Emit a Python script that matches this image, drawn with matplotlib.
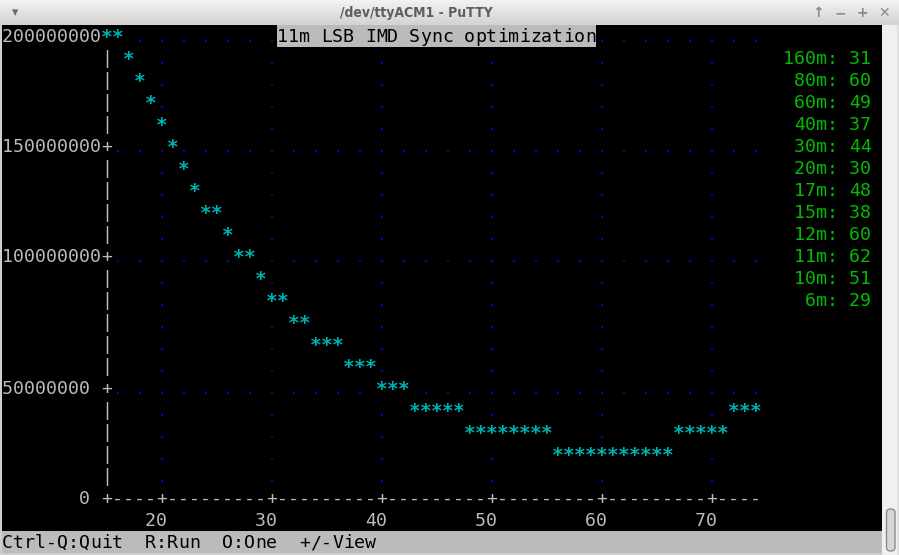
import numpy as np
import matplotlib
matplotlib.use("Agg")
import matplotlib.pyplot as plt
from matplotlib.patches import Rectangle, FancyBboxPatch
from matplotlib.transforms import offset_copy

# ---------------- data ----------------
x_values = list(range(15, 75))
y_values = [200e6, 200e6, 190e6, 181e6, 171e6, 162e6, 152e6, 143e6, 133e6, 125e6,
            122e6, 115e6, 106e6, 103e6, 96e6, 87e6, 84e6, 78e6, 75e6, 69e6,
            67e6, 65e6, 60e6, 58e6, 56e6, 51e6, 49e6, 47e6, 42e6, 41e6,
            40e6, 39e6, 38e6, 33e6, 32e6, 31e6, 30e6, 30e6, 29e6, 29e6,
            29e6, 23e6, 22e6, 21e6, 21e6, 20e6, 20e6, 20e6, 20e6, 21e6,
            21e6, 22e6, 29e6, 30e6, 31e6, 32e6, 33e6, 38e6, 40e6, 42e6]
xtick_values = [20, 30, 40, 50, 60, 70]
xtick_labels = ["20", "30", "40", "50", "60", "70"]
ytick_values = [0, 50e6, 100e6, 150e6, 200e6]
ytick_labels = ["0", "50000000", "100000000", "150000000", "200000000"]
bands = ["160m", "80m", "60m", "40m", "30m", "20m", "17m", "15m", "12m", "11m", "10m", "6m"]
band_values = [31, 60, 49, 37, 44, 30, 48, 38, 60, 62, 51, 29]
title = "11m LSB IMD Sync optimization"
status = "Ctrl-Q:Quit  R:Run  O:One  +/-View"
window_title = "/dev/ttyACM1 - PuTTY"

# ---------------- style ----------------
MONO = "DejaVu Sans Mono"
FS = 13.15
FG = "#bbbbbb"
CYAN = "#00b0b0"
GREEN = "#00bb00"
BLUE = "#0000e0"
W, H = 899, 555
CW, RH = 11, 22          # terminal cell size (px)
X0, Y0 = 2, 25           # terminal origin (px)
ROWS = 21                # plot height in terminal rows
YMAX = 200e6

fig = plt.figure(figsize=(W / 100, H / 100), dpi=100)
fig.patch.set_facecolor("#d8d8d8")

# background / chrome axes in pixel coordinates
ov = fig.add_axes([0, 0, 1, 1])
ov.set_xlim(0, W)
ov.set_ylim(H, 0)
ov.set_axis_off()
ov.set_zorder(0)

grad = np.linspace(0, 1, 25).reshape(-1, 1)
ov.imshow(grad, extent=[0, W, 25, 0], cmap=matplotlib.colors.LinearSegmentedColormap.from_list(
    "tb", ["#f2f2f2", "#d3d3d3"]), aspect="auto", zorder=0)
ov.add_patch(Rectangle((0, 25), W, H - 25, facecolor="#cfcfcf", edgecolor="none", zorder=0))
ov.add_patch(Rectangle((X0, Y0), 80 * CW, 24 * RH - 1, facecolor="black", edgecolor="none", zorder=1))
# scrollbar
ov.add_patch(Rectangle((882, 25), 17, H - 25, facecolor="#f0f0f0", edgecolor="none", zorder=1))
ov.add_patch(Rectangle((897, 25), 2, H - 25, facecolor="#e2e2e2", edgecolor="none", zorder=1))
ov.add_patch(FancyBboxPatch((886.5, 509), 8.5, 42, boxstyle="round,pad=0,rounding_size=4",
                            facecolor="#d6d6d6", edgecolor="#8c8c8c", linewidth=1.0, zorder=2))
# window title and buttons
ov.text(416, 13.5, window_title, ha="center", va="center", color="#5e5e5e",
        fontsize=10, fontweight="bold", fontstretch="condensed",
        family="DejaVu Sans", zorder=3)
ov.text(15, 12.5, "\u25be", ha="center", va="center", color="#6a6a6a", fontsize=9,
        family="DejaVu Sans", zorder=3)
for bx, sym in zip([818, 840, 862, 884], ["\u2191", "\u2212", "+", "\u2715"]):
    ov.text(bx, 13, sym, ha="center", va="center", color="#8a8a8a", fontsize=10,
            fontweight="bold", family="DejaVu Sans", zorder=3)


def put(axes, col, row, s, color, z=5):
    for i, ch in enumerate(s):
        if ch == " ":
            continue
        axes.text(X0 + CW * (col + i) + CW / 2, Y0 + RH * row + 17, ch, ha="center",
                  va="baseline", color=color, family=MONO, fontsize=FS, zorder=z)


# legend (band optimum values)
for r, (b, v) in enumerate(zip(bands, band_values)):
    s = f"{b}: {v}"
    put(ov, 79 - len(s), 1 + r, s, GREEN)

# status bar
ov.add_patch(Rectangle((X0, Y0 + 23 * RH), 80 * CW, RH, facecolor="#bbbbbb", edgecolor="none", zorder=2))
put(ov, 0, 23, status, "black")

# ---------------- plot axes ----------------
left_px = X0 + CW * 9 + CW / 2
right_px = X0 + CW * 68 + CW / 2
top_px = Y0 + RH / 2 + 0
bot_px = Y0 + RH * ROWS + RH / 2
ax = fig.add_axes([left_px / W, (H - bot_px) / H, (right_px - left_px) / W, (bot_px - top_px) / H])
ax.set_zorder(1)
ax.patch.set_visible(False)


def fwd(v):
    return np.floor(np.asarray(v, dtype=float) * ROWS / YMAX + 0.5)


def inv(r):
    return np.asarray(r, dtype=float) * YMAX / ROWS


ax.set_yscale("function", functions=(fwd, inv))
ax.set_xlim(15, 74)
ax.set_ylim(0, YMAX)
ax.set_axis_off()

dot_tr = offset_copy(ax.transData, fig=fig, x=0, y=-5, units="dots")
txt_tr = offset_copy(ax.transData, fig=fig, x=0, y=-6, units="dots")
star_tr = offset_copy(ax.transData, fig=fig, x=0, y=-7, units="dots")
lab_tr = offset_copy(ax.transData, fig=fig, x=0, y=-6 - RH, units="dots")

# grid dots
row_vals = [k * YMAX / ROWS for k in range(1, ROWS)]
gx, gy = [], []
for xt in xtick_values:
    for rv in row_vals:
        gx.append(xt)
        gy.append(rv)
for yt in ytick_values[1:]:
    for xx in range(16, 75, 2):
        gx.append(xx)
        gy.append(yt)
ax.scatter(gx, gy, s=3.6, marker="s", color=BLUE, linewidths=0, transform=dot_tr,
           zorder=1, clip_on=False, antialiased=False)

# axes drawn as characters
tick_rows = set(int(fwd(v)) for v in ytick_values)
for k in range(0, ROWS + 1):
    v = k * YMAX / ROWS
    ch = "+" if k in tick_rows else "|"
    ax.text(15, v, ch, transform=txt_tr, ha="center", va="baseline", color=FG,
            family=MONO, fontsize=FS, zorder=2, clip_on=False)
for xx in range(16, 75):
    ch = "+" if xx in xtick_values else "-"
    ax.text(xx, 0, ch, transform=txt_tr, ha="center", va="baseline", color=FG,
            family=MONO, fontsize=FS, zorder=2, clip_on=False)

# tick labels
for v, s in zip(ytick_values, ytick_labels):
    s8 = s.rjust(8)
    for i, ch in enumerate(s8):
        if ch != " ":
            ax.text(6 + i, v, ch, transform=txt_tr, ha="center", va="baseline", color=FG,
                    family=MONO, fontsize=FS, zorder=2, clip_on=False)
for t, s in zip(xtick_values, xtick_labels):
    for i, ch in enumerate(s):
        ax.text(t - len(s) + 1 + i, 0, ch, transform=lab_tr, ha="center", va="baseline",
                color=FG, family=MONO, fontsize=FS, zorder=2, clip_on=False)

# data stars
for xv, yv in zip(x_values, y_values):
    ax.text(xv, yv, "*", transform=star_tr, ha="center", va="baseline", color=CYAN,
            family=MONO, fontsize=FS + 1, fontweight="bold", zorder=3, clip_on=False,
            bbox=dict(boxstyle="square,pad=0", facecolor="black", edgecolor="none"))

# ---------------- title (reverse video) ----------------
top = fig.add_axes([0, 0, 1, 1])
top.set_xlim(0, W)
top.set_ylim(H, 0)
top.set_axis_off()
top.set_zorder(2)
top.patch.set_visible(False)
tcol = (9 + 68 + 1) // 2 - len(title) // 2
top.add_patch(Rectangle((X0 + CW * tcol, Y0), CW * len(title), RH, facecolor="#bbbbbb",
                        edgecolor="none", zorder=1))
put(top, tcol, 0, title, "black")

fig.savefig("out.png", dpi=100)
